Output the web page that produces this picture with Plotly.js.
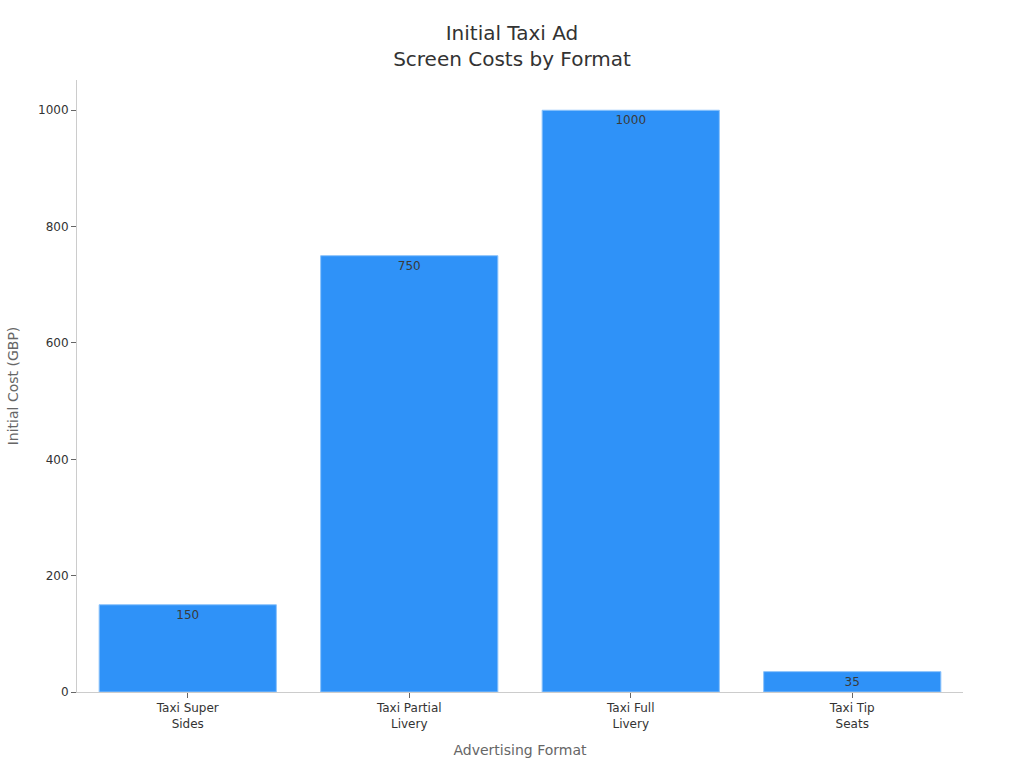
<!DOCTYPE html>
<html><head><meta charset="utf-8">
<script src="https://cdn.plot.ly/plotly-3.0.1.min.js"></script>
<style>html,body{margin:0;padding:0;background:#fff}#chart{width:1024px;height:768px}</style>
</head><body><div id="chart"></div>
<script>
var categories = ["Taxi Super<br>Sides", "Taxi Partial<br>Livery", "Taxi Full<br>Livery", "Taxi Tip<br>Seats"];
var costs = [150, 750, 1000, 35];
var trace = {
  type: 'bar', x: categories, y: costs,
  text: costs.map(String), textposition: 'inside', insidetextanchor: 'end',
  textfont: {family: 'DejaVu Sans', size: 12, color: '#3a3a3a'},
  marker: {color: '#2f92f8', line: {color: '#8cc3fb', width: 1}},
  hoverinfo: 'x+y'
};
var layout = {
  width: 1024, height: 768,
  paper_bgcolor: '#ffffff', plot_bgcolor: '#ffffff',
  font: {family: 'DejaVu Sans', color: '#333333', size: 12},
  title: {text: 'Initial Taxi Ad<br>Screen Costs by Format', x: 0.5, xanchor: 'center', y: 0.948, yanchor: 'top',
    font: {family: 'DejaVu Sans', size: 20, color: '#333333'}},
  margin: {l: 77, r: 61, t: 80, b: 76},
  bargap: 0.2,
  xaxis: {title: {text: 'Advertising Format', font: {size: 14, color: '#666666'}, standoff: 15},
    showline: true, linecolor: '#cccccc', linewidth: 1, ticks: 'outside', ticklen: 5, tickcolor: '#666666',
    tickfont: {size: 12, color: '#333333'}, showgrid: false, zeroline: false},
  yaxis: {title: {text: 'Initial Cost (GBP)', font: {size: 14, color: '#666666'}, standoff: 16},
    range: [0, 1052], tickvals: [0, 200, 400, 600, 800, 1000],
    showline: true, linecolor: '#cccccc', linewidth: 1, ticks: 'outside', ticklen: 5, tickcolor: '#666666',
    tickfont: {size: 12, color: '#333333'}, showgrid: false, zeroline: false},
  showlegend: false
};
Plotly.newPlot('chart', [trace], layout, {displayModeBar: false, staticPlot: true});
</script></body></html>
